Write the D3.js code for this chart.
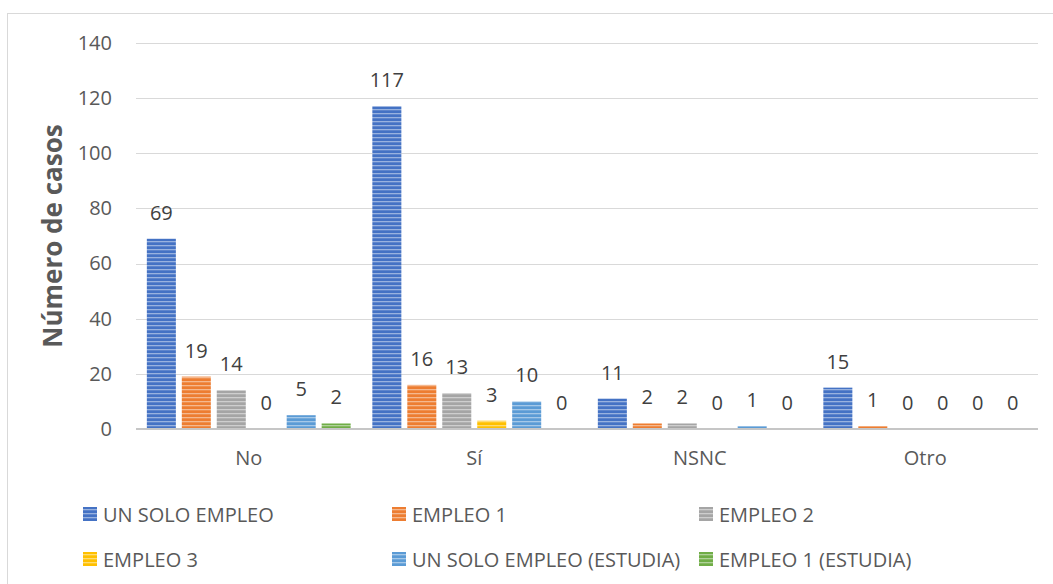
<!DOCTYPE html>
<html>
<head>
<meta charset="utf-8">
<script src="https://cdn.jsdelivr.net/npm/d3@7"></script>
<style>
  body { margin: 0; background: #fff; }
  text { font-family: "Open Sans", "Noto Sans", sans-serif; }
</style>
</head>
<body>
<div id="chart-area"></div>
<script>
// Data
var categories = ['No', 'Sí', 'NSNC', 'Otro'];
var seriesNames = ['UN SOLO EMPLEO', 'EMPLEO 1', 'EMPLEO 2', 'EMPLEO 3',
                   'UN SOLO EMPLEO (ESTUDIA)', 'EMPLEO 1 (ESTUDIA)'];
var unSoloEmpleo        = [69, 117, 11, 15];
var empleo1             = [19, 16, 2, 1];
var empleo2             = [14, 13, 2, 0];
var empleo3             = [0, 3, 0, 0];
var unSoloEmpleoEstudia = [5, 10, 1, 0];
var empleo1Estudia      = [2, 0, 0, 0];
var yTicks = [0, 20, 40, 60, 80, 100, 120, 140];
var colors = ['#4472C4', '#ED7D31', '#A5A5A5', '#FFC000', '#5B9BD5', '#70AD47'];

var seriesValues = [unSoloEmpleo, empleo1, empleo2, empleo3, unSoloEmpleoEstudia, empleo1Estudia];

var W = 1053, H = 584;
var margin = { left: 136, right: 15, top: 43, bottom: 155 };
var width = W - margin.left - margin.right,
    height = H - margin.top - margin.bottom;

var svg = d3.select('#chart-area')
  .append('svg')
    .attr('width', W)
    .attr('height', H);

// striped fills for the bars
var defs = svg.append('defs');
colors.forEach(function(c, i) {
  var p = defs.append('pattern')
    .attr('id', 'stripe' + i)
    .attr('patternUnits', 'userSpaceOnUse')
    .attr('width', 8)
    .attr('height', 4);
  p.append('rect').attr('width', 8).attr('height', 4).attr('fill', c);
  p.append('rect').attr('y', 2).attr('width', 8).attr('height', 1.3)
    .attr('fill', '#fff').attr('opacity', 0.45);
});

// chart border
svg.append('rect')
  .attr('x', 7.5).attr('y', 13.5)
  .attr('width', 1060).attr('height', 600)
  .attr('fill', 'none')
  .attr('stroke', '#d9d9d9');

var g = svg.append('g')
  .attr('transform', 'translate(' + margin.left + ',' + margin.top + ')');

var x0 = d3.scaleBand()
  .domain(categories)
  .range([0, width]);

var x1 = d3.scaleBand()
  .domain(seriesNames)
  .range([0, x0.bandwidth()])
  .paddingInner(0.17)
  .paddingOuter(0.31);

var y = d3.scaleLinear()
  .domain([0, 140])
  .range([height, 0]);

// gridlines
g.append('g')
  .selectAll('line')
  .data(yTicks.slice(1))
  .enter().append('line')
    .attr('x1', 0).attr('x2', width)
    .attr('y1', function(d) { return Math.round(y(d)) + 0.5; })
    .attr('y2', function(d) { return Math.round(y(d)) + 0.5; })
    .attr('stroke', '#d9d9d9')
    .attr('stroke-width', 1);

// Y axis labels
var yAxisCall = d3.axisLeft(y).tickValues(yTicks).tickSize(0).tickPadding(24);
var yAxisGroup = g.append('g').call(yAxisCall);
yAxisGroup.select('.domain').remove();
yAxisGroup.selectAll('text')
  .attr('font-size', '20px')
  .attr('font-family', '"Open Sans", sans-serif')
  .attr('fill', '#595959');

// bars
var groups = g.selectAll('.cat')
  .data(categories)
  .enter().append('g')
    .attr('class', 'cat')
    .attr('transform', function(d) { return 'translate(' + x0(d) + ',0)'; });

groups.selectAll('rect')
  .data(function(c, ci) {
    return seriesNames.map(function(s, si) {
      return { series: s, si: si, value: seriesValues[si][ci] };
    });
  })
  .enter().append('rect')
    .attr('x', function(d) { return x1(d.series); })
    .attr('width', x1.bandwidth())
    .attr('y', function(d) { return y(d.value); })
    .attr('height', function(d) { return height - y(d.value); })
    .attr('fill', function(d) { return 'url(#stripe' + d.si + ')'; });

// data labels
groups.selectAll('.lbl')
  .data(function(c, ci) {
    return seriesNames.map(function(s, si) {
      return { series: s, value: seriesValues[si][ci] };
    });
  })
  .enter().append('text')
    .attr('class', 'lbl')
    .attr('x', function(d) { return x1(d.series) + x1.bandwidth() / 2; })
    .attr('y', function(d) { return y(d.value) - 19; })
    .attr('text-anchor', 'middle')
    .attr('font-size', '20px')
    .attr('fill', '#404040')
    .text(function(d) { return d.value; });

// baseline
g.append('line')
  .attr('x1', 0).attr('x2', width)
  .attr('y1', height).attr('y2', height)
  .attr('stroke', '#c6c6c6')
  .attr('stroke-width', 2);

// X labels
var xAxisGroup = g.append('g')
  .attr('transform', 'translate(0,' + height + ')')
  .call(d3.axisBottom(x0).tickSize(0).tickPadding(22));
xAxisGroup.select('.domain').remove();
xAxisGroup.selectAll('text')
  .attr('font-size', '20px')
  .attr('font-family', '"Open Sans", sans-serif')
  .attr('fill', '#595959');

// Y label
svg.append('text')
  .attr('transform', 'translate(62,' + (margin.top + height / 2) + ') rotate(-90)')
  .attr('text-anchor', 'middle')
  .attr('font-size', '26px')
  .attr('font-weight', 'bold')
  .attr('fill', '#595959')
  .text('Número de casos');

// Legend
var legendCols = [83, 392, 699, 83, 392, 699];
var legendRows = [507, 507, 507, 552, 552, 552];
var legend = svg.append('g')
  .selectAll('g')
  .data(seriesNames)
  .enter().append('g')
    .attr('transform', function(d, i) {
      return 'translate(' + legendCols[i] + ',' + legendRows[i] + ')';
    });

legend.append('rect')
  .attr('width', 14)
  .attr('height', 14)
  .attr('fill', function(d, i) { return 'url(#stripe' + i + ')'; });

legend.append('text')
  .attr('x', 20)
  .attr('y', 15)
  .attr('font-size', '20px')
  .attr('fill', '#595959')
  .text(function(d) { return d; });
</script>
</body>
</html>
